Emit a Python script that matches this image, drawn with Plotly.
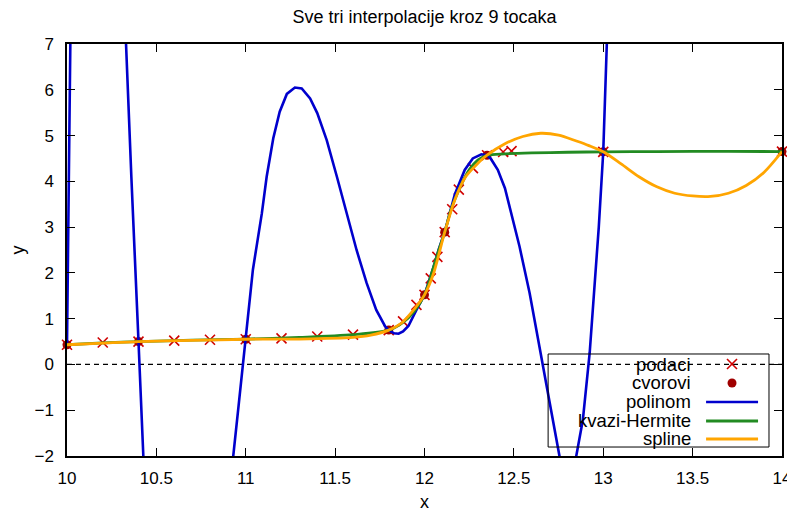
import plotly.graph_objects as go

# ---- data ----
data_x = [10.0, 10.2, 10.4, 10.6, 10.8, 11.0, 11.2, 11.4, 11.6, 11.8, 11.88, 11.955, 12.0,
          12.035, 12.072, 12.113, 12.155, 12.192, 12.271, 12.35, 12.44, 12.487, 13.0, 14.0]
data_y = [0.43, 0.48, 0.50, 0.52, 0.54, 0.55, 0.57, 0.61, 0.65, 0.75, 0.94, 1.30, 1.52,
          1.88, 2.35, 2.89, 3.39, 3.82, 4.29, 4.57, 4.64, 4.66, 4.645, 4.65]

node_x = [10.0, 10.4, 11.0, 11.8, 12.0, 12.113, 12.35, 13.0, 14.0]
node_y = [0.43, 0.50, 0.55, 0.75, 1.52, 2.89, 4.57, 4.645, 4.65]

poly_x = [10.0, 10.009, 10.018, 10.03, 10.32, 10.33, 10.36, 10.4, 10.428, 10.44,
          10.92, 10.93, 10.96, 11.0, 11.04, 11.09, 11.117, 11.154, 11.19, 11.23, 11.275,
          11.313, 11.36, 11.40, 11.453, 11.51, 11.564, 11.62, 11.676, 11.73, 11.78, 11.8,
          11.83, 11.855, 11.88, 11.91, 11.955, 12.0, 12.05, 12.08, 12.113, 12.17, 12.225,
          12.27, 12.318, 12.35, 12.37, 12.41, 12.45, 12.48, 12.532, 12.588, 12.644, 12.70,
          12.755, 12.77, 12.83, 12.849, 12.886, 12.924, 12.95, 12.975, 13.0, 13.015, 13.025]
poly_y = [0.43, 3.5, 7.0, 11.0, 8.0, 7.0, 4.1, 0.5, -2.0, -3.2,
          -2.6, -2.0, -0.9, 0.55, 2.07, 3.30, 4.10, 4.94, 5.52, 5.91, 6.05,
          6.03, 5.81, 5.49, 4.90, 4.10, 3.30, 2.50, 1.78, 1.19, 0.83, 0.75,
          0.68, 0.67, 0.72, 0.84, 1.19, 1.52, 2.12, 2.52, 2.89, 3.72, 4.25,
          4.50, 4.59, 4.57, 4.50, 4.25, 3.85, 3.40, 2.57, 1.56, 0.39, -0.85,
          -2.0, -2.4, -2.4, -2.0, -1.21, 0.25, 1.6, 3.0, 4.645, 6.3, 7.6]

herm_x = [10.0, 10.2, 10.4, 10.7, 11.0, 11.3, 11.6, 11.8, 11.88, 11.94, 12.0, 12.05,
          12.08, 12.113, 12.15, 12.2, 12.25, 12.3, 12.35, 12.45, 12.6, 12.8, 13.0, 13.3,
          13.7, 14.0]
herm_y = [0.43, 0.47, 0.50, 0.53, 0.555, 0.59, 0.65, 0.75, 0.92, 1.15, 1.52, 2.12,
          2.5, 2.89, 3.4, 3.88, 4.25, 4.47, 4.57, 4.60, 4.62, 4.635, 4.645, 4.65,
          4.655, 4.65]

spl_x = [10.0, 10.2, 10.4, 10.7, 11.0, 11.3, 11.6, 11.7, 11.8, 11.87, 11.93, 12.0,
         12.05, 12.113, 12.17, 12.23, 12.3, 12.35, 12.45, 12.55, 12.65, 12.75, 12.85,
         12.92, 13.0, 13.1, 13.2, 13.3, 13.4, 13.5, 13.6, 13.7, 13.8, 13.9, 14.0]
spl_y = [0.43, 0.465, 0.50, 0.525, 0.55, 0.555, 0.59, 0.64, 0.75, 0.90, 1.15, 1.52,
         1.98, 2.89, 3.6, 4.1, 4.4, 4.57, 4.82, 4.98, 5.05, 5.01, 4.88,
         4.78, 4.645, 4.38, 4.10, 3.88, 3.74, 3.68, 3.67, 3.74, 3.91, 4.20, 4.65]

x_ticks = [10, 10.5, 11, 11.5, 12, 12.5, 13, 13.5, 14]
x_tick_labels = ["10", "10.5", "11", "11.5", "12", "12.5", "13", "13.5", "14"]
y_ticks = [-2, -1, 0, 1, 2, 3, 4, 5, 6, 7]

legend_labels = ["podaci", "cvorovi", "polinom", "kvazi-Hermite", "spline"]

# ---- styles ----
C_CROSS = "#d00000"
C_DOT = "#a00000"
C_POLY = "#0000cd"
C_HERM = "#228b22"
C_SPL = "#ffa500"
FONT = "Liberation Sans, Arial, sans-serif"
FS_TEXT = 18
FS_LEG = 18.5
FS_TICK = 17

# the page body has an 8px margin, so the figure is 8px smaller on each axis
W, H = 787, 504

fig = go.Figure()
fig.add_trace(go.Scatter(x=data_x, y=data_y, mode="markers", name=legend_labels[0],
                         marker=dict(symbol="x-thin", size=10, line=dict(width=1.6, color=C_CROSS),
                                     color=C_CROSS), showlegend=False, cliponaxis=False))
fig.add_trace(go.Scatter(x=node_x, y=node_y, mode="markers", name=legend_labels[1],
                         marker=dict(symbol="circle", size=9, color=C_DOT), showlegend=False,
                         cliponaxis=False))
fig.add_trace(go.Scatter(x=poly_x, y=poly_y, mode="lines", name=legend_labels[2],
                         line=dict(color=C_POLY, width=2.6), showlegend=False))
fig.add_trace(go.Scatter(x=herm_x, y=herm_y, mode="lines", name=legend_labels[3],
                         line=dict(color=C_HERM, width=2.8, shape="spline", smoothing=0.8),
                         showlegend=False))
fig.add_trace(go.Scatter(x=spl_x, y=spl_y, mode="lines", name=legend_labels[4],
                         line=dict(color=C_SPL, width=2.8, shape="spline", smoothing=0.8),
                         showlegend=False))

shapes = []
# dashed zero axis
shapes.append(dict(type="line", xref="paper", yref="y", x0=0, x1=1, y0=0, y1=0,
                   line=dict(color="black", width=1.2, dash="5px,4px"), layer="below"))

# gnuplot-style legend (box, right-aligned text, samples on the right)
bx0, bx1, by0, by1 = 0.6729, 0.9818, 0.0218, 0.2476
shapes.append(dict(type="rect", xref="paper", yref="paper", x0=bx0, x1=bx1, y0=by0, y1=by1,
                   line=dict(color="black", width=1), fillcolor="rgba(0,0,0,0)", layer="above"))
row_y = [0.2233, 0.1772, 0.1311, 0.0850, 0.0413]
text_x = 0.8756
samp_x0, samp_x1, samp_xc = 0.8938, 0.9665, 0.9301
annotations = []
for lab, ry in zip(legend_labels, row_y):
    annotations.append(dict(x=text_x, y=ry, xref="paper", yref="paper", text=lab,
                            showarrow=False, xanchor="right", yanchor="middle",
                            font=dict(family=FONT, size=FS_LEG, color="black")))
# cross sample
for s in (1, -1):
    shapes.append(dict(type="line", xref="paper", yref="paper", xsizemode="pixel",
                       ysizemode="pixel", xanchor=samp_xc, yanchor=row_y[0],
                       x0=-5, x1=5, y0=-5 * s, y1=5 * s,
                       line=dict(color=C_CROSS, width=1.6)))
# dot sample
shapes.append(dict(type="circle", xref="paper", yref="paper", xsizemode="pixel",
                   ysizemode="pixel", xanchor=samp_xc, yanchor=row_y[1],
                   x0=-4.5, x1=4.5, y0=-4.5, y1=4.5, fillcolor=C_DOT, line=dict(width=0)))
for col, ry, w in ((C_POLY, row_y[2], 2.6), (C_HERM, row_y[3], 2.8), (C_SPL, row_y[4], 2.8)):
    shapes.append(dict(type="line", xref="paper", yref="paper", x0=samp_x0, x1=samp_x1,
                       y0=ry, y1=ry, line=dict(color=col, width=w)))

fig.update_layout(
    width=W, height=H,
    margin=dict(l=59, r=13, t=36, b=56, autoexpand=False),
    paper_bgcolor="white", plot_bgcolor="white",
    font=dict(family=FONT, size=FS_TICK, color="black"),
    title=dict(text="Sve tri interpolacije kroz 9 tocaka", x=0.5, xref="paper",
               y=1 - 9 / H, yref="container", xanchor="center", yanchor="middle",
               font=dict(family=FONT, size=FS_TEXT, color="black"), automargin=False),
    shapes=shapes, annotations=annotations, showlegend=False,
)
fig.update_xaxes(range=[10, 14], tickvals=x_ticks, ticktext=x_tick_labels,
                 ticks="inside", ticklen=8, tickwidth=1, tickcolor="black",
                 showline=True, linecolor="black", linewidth=1.5, mirror="ticks",
                 showgrid=False, zeroline=False, ticklabelstandoff=6, automargin=False,
                 tickfont=dict(size=FS_TICK),
                 title=dict(text="x", standoff=10, font=dict(size=FS_TEXT)))
fig.update_yaxes(range=[-2, 7], tickvals=y_ticks,
                 ticks="inside", ticklen=8, tickwidth=1, tickcolor="black",
                 showline=True, linecolor="black", linewidth=1.5, mirror="ticks",
                 showgrid=False, zeroline=False, ticklabelstandoff=8, automargin=False,
                 tickfont=dict(size=FS_TICK),
                 title=dict(text="y", standoff=23, font=dict(size=FS_TEXT)))

fig.write_html("out.html")
